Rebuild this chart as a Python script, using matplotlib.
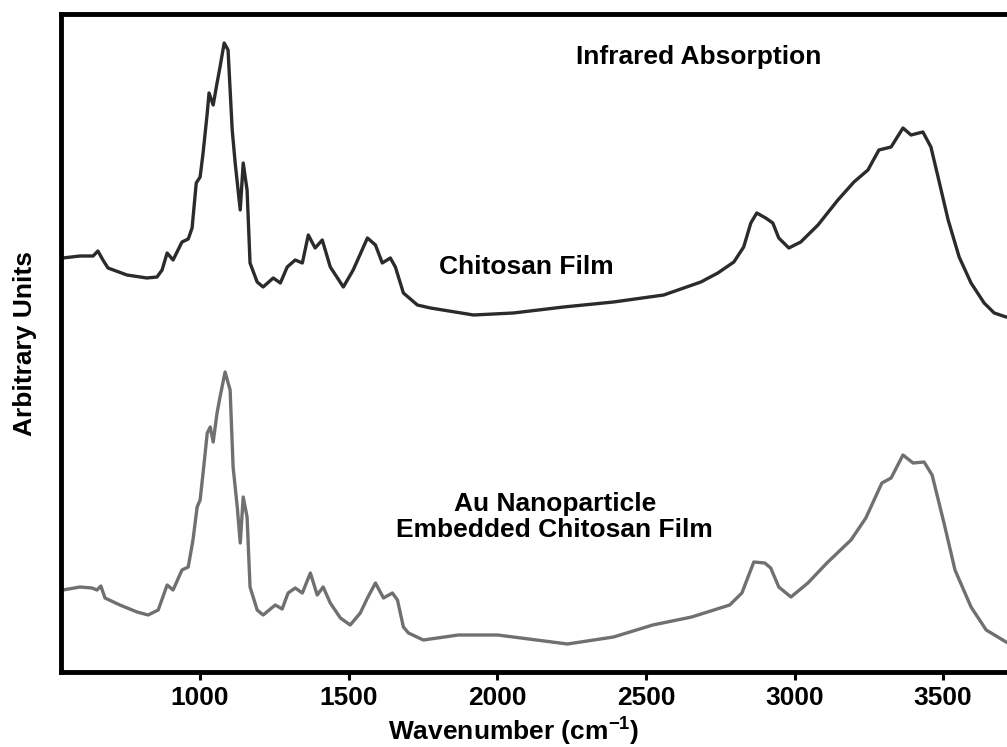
import matplotlib
matplotlib.use("Agg")
import matplotlib.pyplot as plt

plt.rcParams["font.family"] = ["Liberation Sans", "DejaVu Sans"]
plt.rcParams["font.weight"] = "bold"
plt.rcParams["mathtext.fontset"] = "custom"
plt.rcParams["mathtext.rm"] = "Liberation Sans:bold"
plt.rcParams["mathtext.bf"] = "Liberation Sans:bold"
plt.rcParams["mathtext.default"] = "bf"

# IR spectrum of the plain chitosan film (wavenumber, arbitrary intensity)
chitosan_wn = [538, 596, 640, 656, 673, 690, 754, 821, 855, 872, 889, 909,
               939, 960, 973, 987, 1000, 1010, 1024, 1030, 1044, 1057, 1067,
               1081, 1094, 1108, 1118, 1135, 1145, 1158, 1168, 1192, 1212,
               1246, 1270, 1293, 1320, 1344, 1364, 1387, 1411, 1438, 1482,
               1515, 1563, 1590, 1613, 1640, 1657, 1684, 1731, 1775, 1920,
               2054, 2223, 2391, 2560, 2685, 2742, 2796, 2829, 2853, 2873,
               2903, 2927, 2947, 2981, 3021, 3079, 3146, 3200, 3247, 3284,
               3325, 3365, 3392, 3432, 3459, 3483, 3517, 3554, 3594, 3638,
               3672, 3712, 3719]
chitosan_abs = [4.14, 4.16, 4.16, 4.21, 4.12, 4.04, 3.97, 3.94, 3.95, 4.02,
                4.19, 4.12, 4.30, 4.33, 4.44, 4.89, 4.95, 5.19, 5.59, 5.79,
                5.67, 5.89, 6.05, 6.29, 6.22, 5.42, 5.09, 4.62, 5.09, 4.82,
                4.09, 3.90, 3.85, 3.94, 3.89, 4.05, 4.12, 4.09, 4.37, 4.24,
                4.32, 4.05, 3.85, 4.02, 4.34, 4.27, 4.09, 4.14, 4.05, 3.79,
                3.67, 3.64, 3.57, 3.59, 3.65, 3.70, 3.77, 3.90, 3.99, 4.10,
                4.25, 4.49, 4.59, 4.54, 4.49, 4.34, 4.24, 4.30, 4.47, 4.72,
                4.90, 5.02, 5.22, 5.25, 5.44, 5.37, 5.40, 5.25, 4.95, 4.52,
                4.15, 3.89, 3.69, 3.59, 3.55, 3.55]

# IR spectrum of the Au nanoparticle embedded film
au_wn = [538, 596, 636, 653, 666, 680, 730, 788, 825, 859, 889, 909, 939,
         960, 976, 990, 1000, 1010, 1024, 1034, 1044, 1057, 1067, 1084, 1101,
         1111, 1125, 1135, 1145, 1158, 1168, 1192, 1212, 1253, 1276, 1296,
         1320, 1344, 1371, 1394, 1414, 1438, 1472, 1505, 1539, 1563, 1590,
         1617, 1647, 1664, 1684, 1701, 1751, 1869, 2001, 2132, 2236, 2391,
         2523, 2654, 2782, 2823, 2863, 2900, 2920, 2947, 2988, 3045, 3109,
         3190, 3240, 3294, 3325, 3365, 3399, 3436, 3463, 3503, 3540, 3594,
         3645, 3712, 3719]
au_abs = [0.82, 0.85, 0.84, 0.82, 0.86, 0.74, 0.67, 0.60, 0.57, 0.62, 0.87,
          0.82, 1.02, 1.05, 1.32, 1.65, 1.72, 1.99, 2.39, 2.45, 2.30, 2.59,
          2.75, 3.00, 2.82, 2.05, 1.65, 1.29, 1.75, 1.55, 0.85, 0.62, 0.57,
          0.67, 0.63, 0.79, 0.84, 0.79, 0.99, 0.77, 0.85, 0.69, 0.54, 0.47,
          0.59, 0.74, 0.89, 0.74, 0.79, 0.72, 0.45, 0.39, 0.32, 0.37, 0.37,
          0.32, 0.28, 0.35, 0.47, 0.55, 0.67, 0.79, 1.10, 1.09, 1.04, 0.85,
          0.75, 0.89, 1.09, 1.32, 1.54, 1.89, 1.94, 2.17, 2.09, 2.10, 1.97,
          1.49, 1.02, 0.65, 0.42, 0.30, 0.29]

x_ticks = [1000, 1500, 2000, 2500, 3000, 3500]

fig = plt.figure(figsize=(10.07, 7.47), dpi=100)
ax = fig.add_axes([0.0606, 0.1004, 0.9394, 0.8802])

ax.plot(chitosan_wn, chitosan_abs, color="#2b2b2b", lw=2.4,
        solid_joinstyle="round")
ax.plot(au_wn, au_abs, color="#707070", lw=2.4, solid_joinstyle="round")

ax.set_xlim(532, 3715)
ax.set_ylim(0, 6.575)

fs = 19
ax.text(2678, 6.15, "Infrared Absorption", fontsize=fs,
        fontweight="bold", ha="center", va="center")
ax.text(2098, 4.05, "Chitosan Film", fontsize=fs,
        fontweight="bold", ha="center", va="center")
ax.text(2193, 1.55, "Au Nanoparticle\nEmbedded Chitosan Film",
        fontsize=fs, fontweight="bold", ha="center", va="center",
        linespacing=1.12)

ax.set_xticks(x_ticks)
ax.set_yticks([])
ax.tick_params(axis="x", direction="out", length=6, width=2.2,
               labelsize=fs, pad=4)
for lab in ax.get_xticklabels():
    lab.set_fontweight("bold")

for side in ["left", "bottom", "top"]:
    ax.spines[side].set_linewidth(3.5)
ax.spines["right"].set_visible(False)

ax.set_xlabel(r"Wavenumber (cm$^{-1}$)", fontsize=fs, fontweight="bold",
              va="center")
ax.xaxis.set_label_coords(0.478, -0.091)
ax.set_ylabel("Arbitrary Units", fontsize=fs, fontweight="bold",
              va="center")
ax.yaxis.set_label_coords(-0.038, 0.5)

fig.savefig("out.png", dpi=100)
